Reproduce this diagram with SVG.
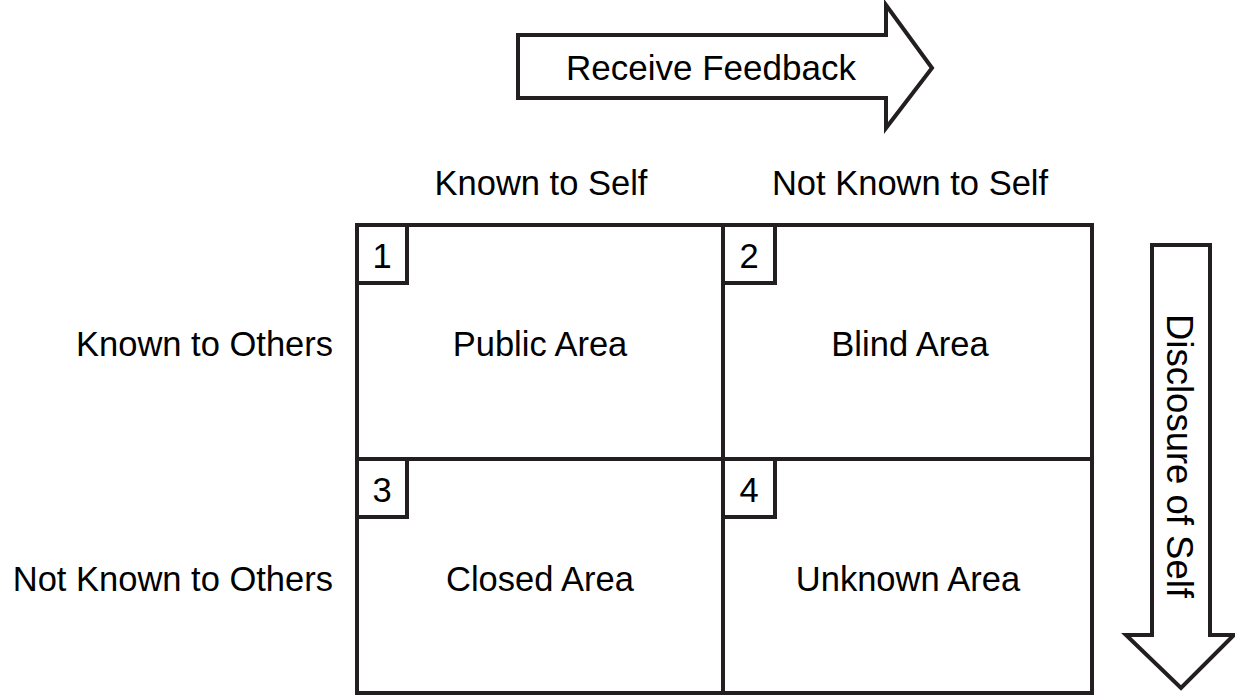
<svg xmlns="http://www.w3.org/2000/svg" width="1235" height="696" viewBox="0 0 1235 696">
<style>
text{font-family:"Liberation Sans",Arial,sans-serif;font-size:34.5px;fill:#000}
.m{text-anchor:middle}
.e{text-anchor:end}
.ln{fill:#fff;stroke:#231f20;stroke-width:4;stroke-linejoin:miter}
</style>
<rect width="1235" height="696" fill="#fff"/>
<g id="connectors">
<polygon class="ln" points="518,35 886,35 886,5 932,68 886,128 886,98 518,98"/>
<polygon class="ln" points="1152,245 1210,245 1210,635 1234,635 1181,688 1126,635 1152,635"/>
</g>
<g id="arrow-feedback-label"><text class="m" x="711" y="80" style="font-size:35px">Receive Feedback</text></g>
<g id="arrow-disclosure-label"><text class="m" transform="translate(1167,456) rotate(90)" style="font-size:36.5px">Disclosure of Self</text></g>
<g id="col-headers">
<text class="m" x="541" y="195">Known to Self</text>
<text class="m" x="910" y="195">Not Known to Self</text>
</g>
<g id="row-headers">
<text class="e" x="333" y="356">Known to Others</text>
<text class="e" x="333" y="591">Not Known to Others</text>
</g>
<g id="grid">
<rect class="ln" x="357" y="225" width="735" height="468"/>
<line class="ln" x1="723" y1="225" x2="723" y2="693"/>
<line class="ln" x1="357" y1="459" x2="1092" y2="459"/>
</g>
<g id="q1">
<rect class="ln" x="357" y="225" width="50" height="58"/>
<text class="m" x="382" y="268">1</text>
<text class="m" x="540" y="356">Public Area</text>
</g>
<g id="q2">
<rect class="ln" x="723" y="225" width="52" height="58"/>
<text class="m" x="749" y="268">2</text>
<text class="m" x="910" y="356">Blind Area</text>
</g>
<g id="q3">
<rect class="ln" x="357" y="459" width="50" height="58"/>
<text class="m" x="382" y="502">3</text>
<text class="m" x="540" y="591">Closed Area</text>
</g>
<g id="q4">
<rect class="ln" x="723" y="459" width="52" height="58"/>
<text class="m" x="749" y="502">4</text>
<text class="m" x="908" y="591">Unknown Area</text>
</g>
</svg>
